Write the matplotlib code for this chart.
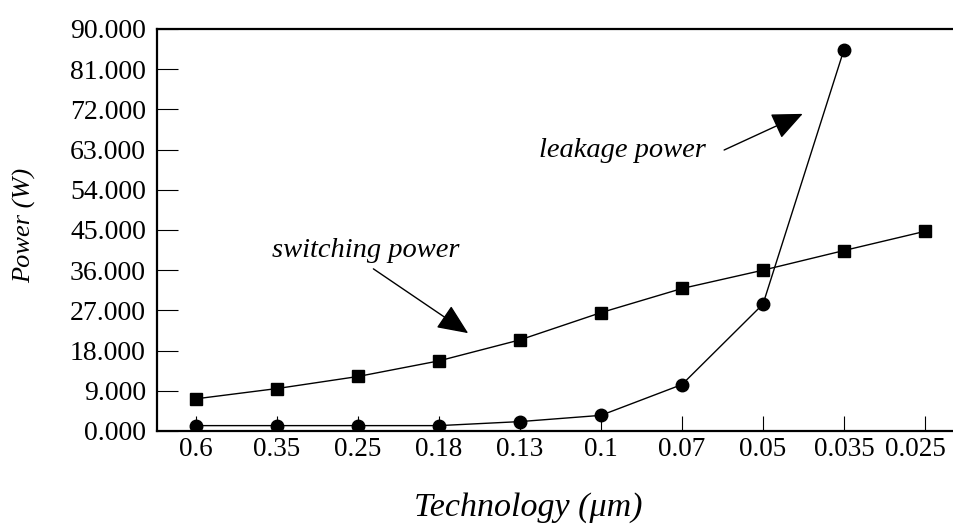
import matplotlib.pyplot as plt
import matplotlib.transforms as mtransforms
import numpy as np
from matplotlib.ticker import FixedLocator, FixedFormatter, FormatStrFormatter

# technology nodes (um) and power (W)
tech = ["0.6", "0.35", "0.25", "0.18", "0.13", "0.1", "0.07", "0.05", "0.035", "0.025"]
switching = [7.2, 9.5, 12.2, 15.7, 20.4, 26.5, 31.9, 36.0, 40.4, 44.7]
leakage = [1.2, 1.2, 1.2, 1.2, 2.1, 3.5, 10.4, 28.4, 85.4]
y_ticks = [0, 9, 18, 27, 36, 45, 54, 63, 72, 81, 90]

plt.rcParams['font.family'] = ['Liberation Serif', 'DejaVu Serif']

fig = plt.figure(figsize=(9.54, 5.27), dpi=100)
ax = fig.add_axes([0.1646, 0.1822, 0.8354, 0.7628])

x_sw = np.arange(len(switching))
x_lk = np.arange(len(leakage))
ax.plot(x_sw, switching, color='black', lw=1.0, marker='s', markersize=8)
ax.plot(x_lk, leakage, color='black', lw=1.0, marker='o', markersize=9)

ax.set_xlim(-0.481, 9.358)
ax.set_ylim(0, 90)

ax.xaxis.set_major_locator(FixedLocator(list(range(len(tech)))))
ax.xaxis.set_major_formatter(FixedFormatter(tech))
ax.yaxis.set_major_locator(FixedLocator(y_ticks))
ax.yaxis.set_major_formatter(FormatStrFormatter('%.3f'))

ax.tick_params(axis='y', direction='in', length=15, width=0.8, labelsize=20, pad=8)
ax.tick_params(axis='x', direction='in', length=11, width=0.8, labelsize=19.5, pad=4)

# last label sits a bit left of its tick so it stays inside the figure
last = ax.get_xticklabels()[-1]
last.set_transform(last.get_transform() + mtransforms.ScaledTranslation(-7 / 72, 0, fig.dpi_scale_trans))

ax.spines['right'].set_visible(False)
for side in ['left', 'bottom', 'top']:
    ax.spines[side].set_linewidth(1.6)

# callouts
ax.text(2.09, 40.5, "switching power", style='italic', fontsize=20.5, ha='center', va='center')
ax.annotate('', xy=(3.36, 21.9), xytext=(2.19, 36.3),
            arrowprops=dict(arrowstyle='-|>,head_length=0.8,head_width=0.35',
                            mutation_scale=24, lw=1.0, color='black', shrinkA=0, shrinkB=0))
ax.text(5.26, 62.9, "leakage power", style='italic', fontsize=20.5, ha='center', va='center')
ax.annotate('', xy=(7.49, 71.0), xytext=(6.52, 62.9),
            arrowprops=dict(arrowstyle='-|>,head_length=0.8,head_width=0.35',
                            mutation_scale=24, lw=1.0, color='black', shrinkA=0, shrinkB=0))

fig.text(528 / 954, 1 - 508 / 527, "Technology (μm)", style='italic', fontsize=24.5,
         ha='center', va='center')
fig.text(25 / 954, 1 - 225 / 527, "Power (W)", style='italic', fontsize=19,
         ha='center', va='center', rotation=90)

fig.savefig("out.png", dpi=100)
